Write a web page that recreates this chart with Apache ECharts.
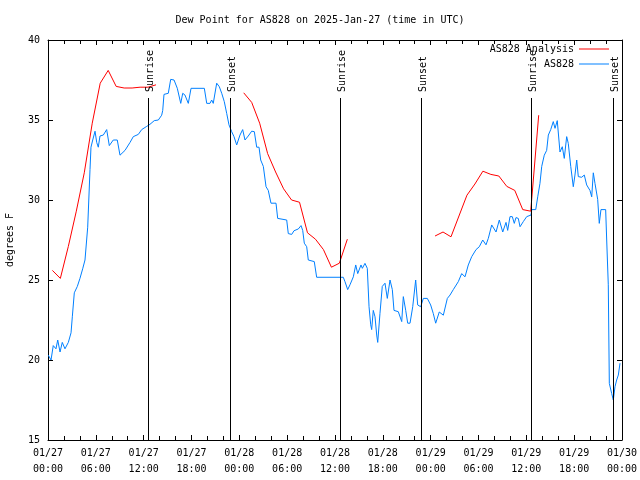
<!DOCTYPE html>
<html>
<head>
<meta charset="utf-8">
<script src="https://cdn.jsdelivr.net/npm/echarts@6/dist/echarts.min.js"></script>
<style>html,body{margin:0;padding:0;background:#fff}#c{width:640px;height:480px}</style>
</head>
<body>
<div id="c"></div>
<script>
// Hours since 2025-01-27 00:00 UTC
const xTickLabels = ['01/27\n00:00','01/27\n06:00','01/27\n12:00','01/27\n18:00','01/28\n00:00','01/28\n06:00','01/28\n12:00','01/28\n18:00','01/29\n00:00','01/29\n06:00','01/29\n12:00','01/29\n18:00','01/30\n00:00'];
const yTicks = [15, 20, 25, 30, 35, 40];

const sunHours = [12.6, 22.77, 36.57, 46.8, 60.6, 70.83];
const sunLabels = ['Sunrise','Sunset','Sunrise','Sunset','Sunrise','Sunset'];

const analysisHours = [0.55,1.55,2.55,3.55,4.55,5.55,6.55,7.55,8.55,9.55,10.55,11.55,12.55,13.55,
  19,
  24.55,25.55,26.55,27.55,28.55,29.55,30.55,31.55,32.55,33.55,34.55,35.55,36.55,37.55,
  43,
  48.55,49.55,50.55,51.55,52.55,53.55,54.55,55.55,56.55,57.55,58.55,59.55,60.55,61.55];
const analysisValues = [25.6,25.1,27.1,29.3,31.7,34.8,37.3,38.1,37.1,37.0,37.0,37.05,37.05,37.2,
  null,
  36.7,36.1,34.8,32.9,31.75,30.7,30.0,29.86,27.95,27.55,26.9,25.8,26.05,27.55,
  null,
  27.75,28.0,27.7,29.0,30.3,31.0,31.8,31.6,31.5,30.85,30.6,29.4,29.3,35.3];

const obsHours = [0.04,0.38,0.66,1.00,1.22,1.51,1.79,2.13,2.55,2.89,3.05,3.30,3.68,4.01,4.35,4.64,4.98,5.27,5.39,5.61,5.90,6.11,6.31,6.52,6.94,7.36,7.69,8.19,8.69,9.03,9.66,10.29,10.70,11.33,11.75,12.38,12.79,13.33,13.84,14.26,14.39,14.55,15.09,15.39,15.81,16.22,16.65,16.90,17.18,17.60,17.94,19.61,19.91,20.32,20.53,20.73,21.16,21.49,21.79,22.11,22.42,22.70,23.04,23.33,23.67,24.08,24.42,24.71,25.12,25.55,25.88,26.18,26.47,26.68,27.01,27.35,27.63,27.97,28.60,28.81,29.94,30.14,30.57,30.86,31.40,31.74,31.95,32.15,32.45,32.65,33.40,33.70,37.04,37.25,37.59,37.88,38.30,38.60,38.85,39.26,39.43,39.76,40.05,40.27,40.48,40.60,40.80,41.02,41.23,41.36,41.64,41.93,42.27,42.56,42.90,43.19,43.40,43.94,44.37,44.57,44.87,45.12,45.41,45.75,46.12,46.37,46.75,47.08,47.58,48.00,48.33,48.63,49.08,49.59,50.09,50.43,50.84,51.47,51.89,52.31,52.72,53.15,53.69,54.10,54.53,54.94,55.23,55.66,56.20,56.61,57.04,57.45,57.66,57.95,58.24,58.49,58.70,58.99,59.21,59.62,60.05,60.59,60.67,61.18,61.43,61.71,61.93,62.25,62.55,62.76,63.06,63.38,63.60,63.88,64.22,64.51,64.76,65.06,65.26,65.57,65.89,66.10,66.32,66.52,66.94,67.27,67.57,67.77,67.98,68.20,68.40,68.61,68.95,69.15,69.36,69.95,70.08,70.28,70.41,70.71,70.91,71.12,71.33,71.54,71.75];
const obsValues = [20.3,20.0,20.9,20.7,21.25,20.5,21.1,20.7,21.1,21.7,22.7,24.2,24.6,25.1,25.7,26.25,28.3,31.9,33.3,33.75,34.3,33.6,33.3,34.0,34.06,34.4,33.4,33.75,33.75,32.8,33.1,33.6,33.96,34.1,34.4,34.6,34.73,34.96,35.0,35.3,35.6,36.6,36.67,37.54,37.5,36.98,36.04,36.67,36.56,36.04,36.98,36.98,36.04,36.04,36.25,36.04,37.3,37.08,36.67,36.15,35.4,34.7,34.27,33.96,33.44,34.06,34.4,33.75,34.0,34.3,34.27,33.3,33.3,32.5,32.1,30.83,30.6,29.8,29.8,28.85,28.75,27.9,27.85,28.08,28.19,28.4,28.1,27.3,27.08,26.25,26.15,25.17,25.17,24.9,24.4,24.7,25.2,25.94,25.4,25.94,25.73,26.04,25.73,23.33,22.2,21.9,23.1,22.7,21.56,21.1,22.9,24.6,24.8,23.85,25.0,24.4,23.1,23.02,22.4,23.96,23.1,22.3,22.3,23.33,25.0,23.44,23.33,23.85,23.85,23.44,22.9,22.3,23.0,22.8,23.85,24.06,24.4,24.9,25.4,25.2,25.94,26.46,26.9,27.08,27.5,27.2,27.6,28.44,28.0,28.75,28.0,28.6,28.1,28.96,28.96,28.54,28.9,28.85,28.33,28.65,28.96,29.06,29.4,29.4,30.2,31.04,32.1,32.8,33.1,34.06,34.4,34.9,34.48,34.96,33.0,33.33,32.6,33.96,33.54,32.1,30.83,31.56,32.5,31.46,31.42,31.56,30.94,30.94,30.6,30.2,31.7,31.04,30.04,28.54,29.4,29.4,27.5,24.7,18.54,17.9,17.5,18.33,18.75,19.06,19.8];

const FONT = '"DejaVu Sans Mono", "Liberation Mono", monospace';
const sunTopValue = 36.35;

const chart = echarts.init(document.getElementById('c'), null, {renderer: 'canvas'});
const axisCommon = {
  axisLine: {show: true, onZero: false, lineStyle: {color: '#000', width: 1}},
  splitLine: {show: false}
};
chart.setOption({
  animation: false,
  backgroundColor: '#fff',
  title: {
    text: 'Dew Point for AS828 on 2025-Jan-27 (time in UTC)',
    left: 'center', top: 10,
    textStyle: {fontFamily: FONT, fontSize: 10, fontWeight: 'normal', color: '#000'}
  },
  legend: {
    data: ['AS828 Analysis', 'AS828'],
    orient: 'vertical', right: 26, top: 38, align: 'right',
    icon: 'rect', itemWidth: 30, itemHeight: 1, itemGap: 3,
    textStyle: {fontFamily: FONT, fontSize: 10, color: '#000', lineHeight: 12}
  },
  grid: {left: 48, right: 18, top: 40, bottom: 40, containLabel: false, outerBoundsMode: 'none'},
  xAxis: [
    Object.assign({
      type: 'value', min: 0, max: 72, interval: 6, position: 'bottom',
      axisTick: {show: true, inside: true, length: 5, lineStyle: {color: '#000'}},
      minorTick: {show: true, splitNumber: 3, length: 4, lineStyle: {color: '#000'}},
      axisLabel: {fontFamily: FONT, fontSize: 10, color: '#000', lineHeight: 16, margin: 5,
        formatter: v => xTickLabels[Math.round(v / 6)]}
    }, axisCommon),
    Object.assign({
      type: 'value', min: 0, max: 72, interval: 6, position: 'top',
      axisTick: {show: true, inside: true, length: 5, lineStyle: {color: '#000'}},
      minorTick: {show: true, splitNumber: 3, length: 4, lineStyle: {color: '#000'}},
      axisLabel: {show: false}
    }, axisCommon)
  ],
  yAxis: [
    Object.assign({
      type: 'value', min: yTicks[0], max: yTicks[yTicks.length - 1], interval: 5, position: 'left',
      name: 'degrees F', nameLocation: 'middle', nameGap: 33, nameRotate: 90,
      nameTextStyle: {fontFamily: FONT, fontSize: 10, color: '#000'},
      axisTick: {show: true, inside: true, length: 5, lineStyle: {color: '#000'}},
      axisLabel: {fontFamily: FONT, fontSize: 10, color: '#000', margin: 8}
    }, axisCommon),
    Object.assign({
      type: 'value', min: yTicks[0], max: yTicks[yTicks.length - 1], interval: 5, position: 'right',
      axisTick: {show: true, inside: true, length: 5, lineStyle: {color: '#000'}},
      axisLabel: {show: false}
    }, axisCommon)
  ],
  series: [
    {
      name: 'AS828 Analysis', type: 'line', xAxisIndex: 0, yAxisIndex: 0,
      showSymbol: false, symbol: 'none', connectNulls: false,
      lineStyle: {color: '#ff0000', width: 1}, itemStyle: {color: '#ff0000'},
      data: analysisHours.map((h, i) => [h, analysisValues[i] === null ? '-' : analysisValues[i]]),
      z: 3
    },
    {
      name: 'AS828', type: 'line', xAxisIndex: 0, yAxisIndex: 0,
      showSymbol: false, symbol: 'none',
      lineStyle: {color: '#0080ff', width: 1}, itemStyle: {color: '#0080ff'},
      data: obsHours.map((h, i) => [h, obsValues[i]]),
      z: 2
    },
    {
      name: 'sun', type: 'custom', xAxisIndex: 0, yAxisIndex: 0, silent: true, z: 4,
      data: sunHours.map(h => [h, yTicks[0]]),
      renderItem: function (params, api) {
        const t = api.value(0);
        const top = api.coord([t, sunTopValue]);
        const bot = api.coord([t, yTicks[0]]);
        const x = Math.round(top[0]) + 0.5;
        return {
          type: 'group',
          children: [
            {type: 'line', shape: {x1: x, y1: Math.round(top[1]), x2: x, y2: bot[1]},
             style: {stroke: '#000', lineWidth: 1}},
            {type: 'text', x: x + 1.5, y: Math.round(top[1]) - 6, rotation: Math.PI / 2,
             style: {text: sunLabels[params.dataIndex], font: '10px ' + FONT, fill: '#000',
                     align: 'left', verticalAlign: 'middle'}}
          ]
        };
      }
    }
  ]
});
</script>
</body>
</html>
